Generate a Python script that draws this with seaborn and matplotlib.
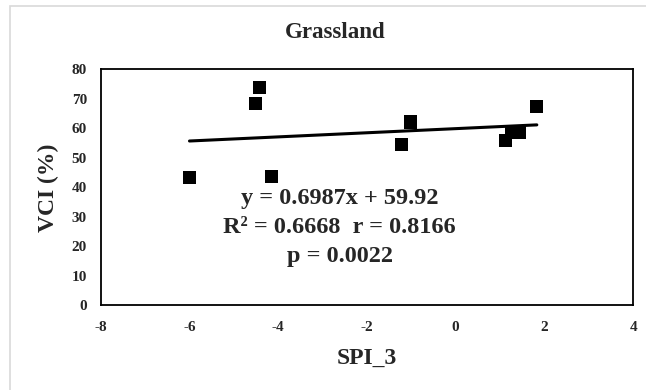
import numpy as np
import pandas as pd
import matplotlib.pyplot as plt
import seaborn as sns
from matplotlib.patches import Rectangle

# data
spi_3 = [-6.0, -4.43, -4.51, -4.16, -1.01, -1.22, 1.13, 1.26, 1.44, 1.83]
vci = [43.3, 73.8, 68.5, 43.6, 62.2, 54.6, 56.0, 58.8, 58.8, 67.3]
slope = 0.6987
intercept = 59.92
r2_text = "R\u00b2 = 0.6668  r = 0.8166"
p_text = "p = 0.0022"
x_ticks = [-8, -6, -4, -2, 0, 2, 4]
y_ticks = [0, 10, 20, 30, 40, 50, 60, 70, 80]

df = pd.DataFrame({'SPI_3': spi_3, 'VCI': vci})

sns.set_style('white')
plt.rcParams['font.family'] = ['Liberation Serif', 'DejaVu Serif']
plt.rcParams['font.weight'] = 'bold'
plt.rcParams['axes.unicode_minus'] = False

fig = plt.figure(figsize=(6.46, 3.9), dpi=100)
ax = fig.add_axes([0.156, 0.217, 0.824, 0.605])

# outer chart-area frame
fig.patches.append(Rectangle((10 / 646, -0.01), 1.0, 1 - 6 / 390 + 0.01,
                             transform=fig.transFigure, fill=False,
                             edgecolor='#d9d9d9', linewidth=1.2))

sns.scatterplot(data=df, x='SPI_3', y='VCI', marker='s', s=90,
                color='black', edgecolor='none', ax=ax, legend=False)

# linear trendline over the data range
xl = np.array([df['SPI_3'].min(), df['SPI_3'].max()])
ax.plot(xl, slope * xl + intercept, color='black', linewidth=2.2)

ax.set_xlim(-8, 4)
ax.set_ylim(0, 80)
ax.set_xticks(x_ticks)
ax.set_yticks(y_ticks)
ax.tick_params(axis='y', length=0, pad=10, labelsize=11)
ax.tick_params(axis='x', length=0, pad=11, labelsize=11)
for lab in ax.get_xticklabels() + ax.get_yticklabels():
    lab.set_fontweight('bold')

for sp in ax.spines.values():
    sp.set_visible(True)
    sp.set_color('black')
    sp.set_linewidth(1.3)

ax.set_xlabel('SPI_3', fontsize=17, fontweight='bold')
ax.set_ylabel('VCI (%)', fontsize=17, fontweight='bold')
ax.xaxis.set_label_coords(0.5, -0.18)
ax.yaxis.set_label_coords(-0.078, 0.5)

fig.text(335 / 646, 1 - 32 / 390, 'Grassland', ha='center', va='center',
         fontsize=16.5, fontweight='bold')

eq = f"y = {slope}x + {intercept}"
for txt, yy in zip([eq, r2_text, p_text], [0.455, 0.332, 0.209]):
    ax.text(0.449, yy, txt, transform=ax.transAxes, ha='center', va='center',
            fontsize=17.5, fontweight='bold')

fig.savefig('out.png', dpi=100)
